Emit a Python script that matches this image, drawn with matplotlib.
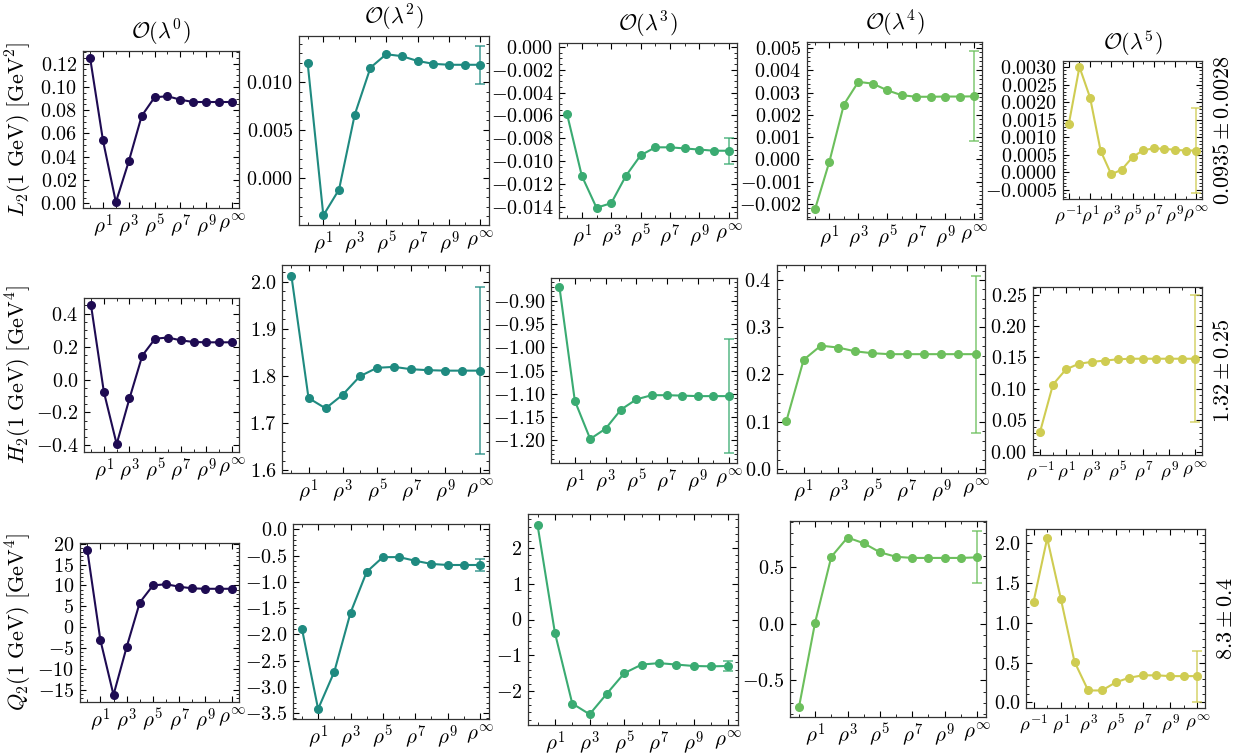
import matplotlib
matplotlib.use("Agg")
import matplotlib.pyplot as plt
from matplotlib.ticker import AutoMinorLocator, MultipleLocator, FixedLocator, ScalarFormatter

plt.rcParams.update({
    "font.family": "serif",
    "font.serif": ["cmr10"],
    "mathtext.fontset": "cm",
    "axes.formatter.use_mathtext": True,
    "xtick.direction": "in",
    "ytick.direction": "in",
    "xtick.top": True,
    "ytick.right": True,
    "xtick.minor.visible": True,
    "ytick.minor.visible": True,
    "xtick.labelsize": 15,
    "ytick.labelsize": 14.5,
    "axes.linewidth": 0.9,
    "axes.edgecolor": "#333333",
})

W, H = 1244, 756

# rho orders; the last entry is rho^infinity (drawn at 11)
orders = [0, 1, 2, 3, 4, 5, 6, 7, 8, 9, 10, 11]
orders_l5 = [-1, 0, 1, 2, 3, 4, 5, 6, 7, 8, 9, 10, 11]
xticks = [1, 3, 5, 7, 9, 11]
xticklabels = [r"$\rho^{1}$", r"$\rho^{3}$", r"$\rho^{5}$", r"$\rho^{7}$", r"$\rho^{9}$", r"$\rho^{\infty}$"]
xticks_l5 = [-1, 1, 3, 5, 7, 9, 11]
xticklabels_l5 = [r"$\rho^{-1}$"] + xticklabels

titles = [r"$\mathcal{O}(\lambda^0)$", r"$\mathcal{O}(\lambda^2)$", r"$\mathcal{O}(\lambda^3)$",
          r"$\mathcal{O}(\lambda^4)$", r"$\mathcal{O}(\lambda^5)$"]
row_labels = [r"$L_2(1\ \mathrm{GeV})\ [\mathrm{GeV}^2]$",
              r"$H_2(1\ \mathrm{GeV})\ [\mathrm{GeV}^4]$",
              r"$Q_2(1\ \mathrm{GeV})\ [\mathrm{GeV}^4]$"]
results = [r"$0.0935 \pm 0.0028$", r"$1.32 \pm 0.25$", r"$8.3 \pm 0.4$"]
colors = ["#1e0b52", "#1f8a80", "#3aab72", "#6cbf5c", "#cfcc52"]

# L2
L2_0 = [0.125, 0.054, 0.001, 0.036, 0.075, 0.091, 0.092, 0.089, 0.087, 0.087, 0.087, 0.087]
L2_2 = [0.0120, -0.0039, -0.0012, 0.0066, 0.0115, 0.0129, 0.0127, 0.0122, 0.0119, 0.0118, 0.0118, 0.0118]
L2_3 = [-0.0059, -0.0113, -0.0141, -0.0137, -0.0113, -0.0095, -0.0088, -0.0088, -0.0089, -0.0090, -0.0091, -0.0091]
L2_4 = [-0.00225, -0.0001, 0.00246, 0.00348, 0.0034, 0.0031, 0.00288, 0.00281, 0.00281, 0.00282, 0.00282, 0.00283]
L2_5 = [0.00138, 0.0030, 0.00213, 0.00061, -0.00006, 0.00008, 0.00043, 0.00063, 0.00068, 0.00067, 0.00064, 0.00062, 0.00062]
L2_err = [0, 0.0020, 0.00112, 0.00202, 0.0012]

# H2
H2_0 = [0.45, -0.075, -0.392, -0.115, 0.145, 0.248, 0.255, 0.238, 0.228, 0.226, 0.226, 0.226]
H2_2 = [2.012, 1.753, 1.731, 1.760, 1.799, 1.817, 1.819, 1.814, 1.812, 1.811, 1.811, 1.811]
H2_3 = [-0.871, -1.115, -1.197, -1.175, -1.134, -1.112, -1.103, -1.103, -1.104, -1.105, -1.105, -1.105]
H2_4 = [0.102, 0.231, 0.261, 0.257, 0.249, 0.245, 0.243, 0.243, 0.243, 0.243, 0.243, 0.243]
H2_5 = [0.032, 0.107, 0.131, 0.140, 0.143, 0.145, 0.147, 0.148, 0.148, 0.148, 0.148, 0.148, 0.148]
H2_err = [0, 0.177, 0.122, 0.166, 0.101]

# Q2
Q2_0 = [18.6, -3.1, -16.3, -4.8, 5.9, 10.0, 10.3, 9.7, 9.3, 9.2, 9.2, 9.2]
Q2_2 = [-1.89, -3.42, -2.71, -1.59, -0.81, -0.53, -0.53, -0.60, -0.66, -0.68, -0.68, -0.68]
Q2_3 = [2.64, -0.37, -2.35, -2.65, -2.07, -1.50, -1.26, -1.22, -1.26, -1.30, -1.31, -1.30]
Q2_4 = [-0.74, 0.01, 0.59, 0.76, 0.71, 0.63, 0.59, 0.58, 0.58, 0.58, 0.58, 0.585]
Q2_5 = [1.26, 2.06, 1.30, 0.51, 0.15, 0.15, 0.25, 0.31, 0.34, 0.34, 0.33, 0.33, 0.33]
Q2_err = [0, 0.12, 0.15, 0.23, 0.32]

series = [[L2_0, L2_2, L2_3, L2_4, L2_5],
          [H2_0, H2_2, H2_3, H2_4, H2_5],
          [Q2_0, Q2_2, Q2_3, Q2_4, Q2_5]]
errors = [L2_err, H2_err, Q2_err]

ylims = [
    [(-0.004, 0.1308), (-0.0049, 0.0148), (-0.0150, 0.00035), (-0.00268, 0.00527), (-0.00076, 0.00317)],
    [(-0.44, 0.495), (1.594, 2.035), (-1.2486, -0.8514), (-0.0085, 0.4317), (-0.005, 0.262)],
    [(-18.0, 20.2), (-3.61, 0.10), (-2.95, 2.95), (-0.824, 0.906), (-0.07, 2.176)],
]
yticks = [
    [[0.00, 0.02, 0.04, 0.06, 0.08, 0.10, 0.12], [0.000, 0.005, 0.010],
     [-0.014, -0.012, -0.010, -0.008, -0.006, -0.004, -0.002, 0.000],
     [-0.002, -0.001, 0.000, 0.001, 0.002, 0.003, 0.004, 0.005],
     [-0.0005, 0.0000, 0.0005, 0.0010, 0.0015, 0.0020, 0.0025, 0.0030]],
    [[-0.4, -0.2, 0.0, 0.2, 0.4], [1.6, 1.7, 1.8, 1.9, 2.0],
     [-1.20, -1.15, -1.10, -1.05, -1.00, -0.95, -0.90],
     [0.0, 0.1, 0.2, 0.3, 0.4], [0.00, 0.05, 0.10, 0.15, 0.20, 0.25]],
    [[-15, -10, -5, 0, 5, 10, 15, 20], [-3.5, -3.0, -2.5, -2.0, -1.5, -1.0, -0.5, 0.0],
     [-2, -1, 0, 1, 2], [-0.5, 0.0, 0.5], [0.0, 0.5, 1.0, 1.5, 2.0]],
]

# axes boxes in pixels: left, top, right, bottom
boxes = [
    [(83, 51, 239, 208), (299, 36, 489, 225), (559, 43, 737, 218), (807, 42, 982, 219), (1063, 61, 1202, 199)],
    [(84, 298, 239, 452), (282, 265, 489, 473), (551, 278, 737, 463), (777, 265, 985, 473), (1033, 287, 1202, 455)],
    [(80, 543, 239, 702), (293, 524, 489, 719), (528, 514, 738, 725), (790, 521, 986, 717), (1026, 529, 1205, 708)],
]
ylabel_x = 34  # right edge of the row labels, pixels

fig = plt.figure(figsize=(W / 100, H / 100), dpi=100)

for r in range(3):
    for c in range(5):
        l, t, rr, b = boxes[r][c]
        ax = fig.add_axes([l / W, 1 - b / H, (rr - l) / W, (b - t) / H])
        y = series[r][c]
        x = orders_l5 if c == 4 else orders
        col = colors[c]
        ax.plot(x, y, "o-", color=col, lw=1.5, ms=5.5, zorder=3)
        err = errors[r][c]
        if err:
            ax.errorbar([x[-1]], [y[-1]], yerr=[err], color=col, lw=1.1, capsize=3.5,
                        capthick=1.1, fmt="none", alpha=0.85, zorder=2)
        ax.set_ylim(*ylims[r][c])
        ax.set_xlim(x[0] - 0.55, x[-1] + 0.55)
        ax.yaxis.set_major_locator(FixedLocator(yticks[r][c]))
        fmt = ScalarFormatter(useOffset=False, useMathText=True)
        ax.yaxis.set_major_formatter(fmt)
        ax.yaxis.set_minor_locator(AutoMinorLocator())
        if c == 4:
            ax.set_xticks(xticks_l5)
            ax.set_xticklabels(xticklabels_l5, fontsize=13.5)
        else:
            ax.set_xticks(xticks)
            ax.set_xticklabels(xticklabels)
        ax.xaxis.set_minor_locator(MultipleLocator(1))
        ax.tick_params(which="major", length=4, width=0.8, pad=4)
        ax.tick_params(which="minor", length=2, width=0.6)
        ax.tick_params(axis="x", which="major", pad=3)
        if r == 0:
            ax.set_title(titles[c], fontsize=16, pad=8)
        if c == 0:
            ax.set_ylabel(row_labels[r], fontsize=16)
            ax.yaxis.set_label_coords((ylabel_x - l) / (rr - l), 0.5)
        if c == 4:
            ax.yaxis.set_label_position("right")
            ax.set_ylabel(results[r], fontsize=16, labelpad=8)

fig.savefig("out.png", dpi=100)
